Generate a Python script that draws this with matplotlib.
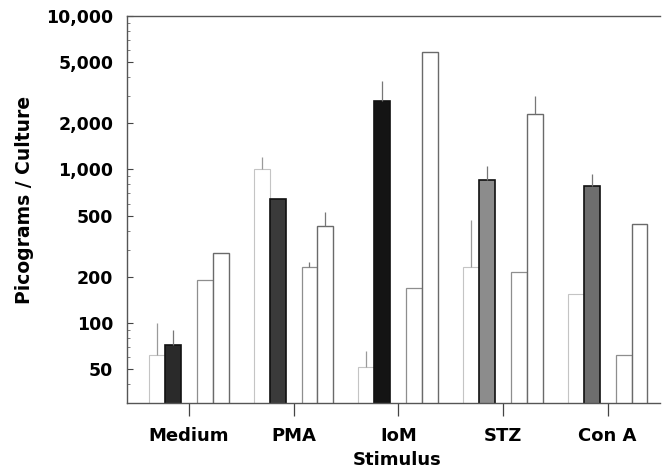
import matplotlib
matplotlib.use('Agg')
import matplotlib.pyplot as plt
import numpy as np
from matplotlib.ticker import FixedLocator, NullFormatter, LogLocator

plt.rcParams['font.family'] = 'DejaVu Sans'
plt.rcParams['font.weight'] = 'bold'

#%% Data
stimuli = ['Medium', 'PMA', 'IoM', 'STZ', 'Con A']

# four visible bars per group; values and top of the upper error bar
light1 = [62, 1000, 52, 230, 155]
light1_err = [100, 1200, 66, 470, 155]
dark = [72, 640, 2800, 860, 780]
dark_err = [90, 640, 3800, 1050, 940]
open4 = [190, 230, 170, 215, 62]
open4_err = [190, 250, 170, 215, 62]
open5 = [285, 430, 5800, 2300, 440]
open5_err = [285, 530, 5800, 3000, 440]

ytick_vals = [50, 100, 200, 500, 1000, 2000, 5000, 10000]
ytick_text = ['50', '100', '200', '500', '1,000', '2,000', '5,000', '10,000']

#%% Plot
fig = plt.figure(figsize=(6.62, 4.71), dpi=100)
ax = fig.add_axes([0.192, 0.144, 0.805, 0.822])

x = np.arange(len(stimuli))
w = 0.152
dark_cols = ['#2a2a2a', '#3a3a3a', '#141414', '#8c8c8c', '#6e6e6e']


def upper(vals, tops):
    v = np.array(vals, float)
    return [np.zeros_like(v), np.array(tops, float) - v]


ax.bar(x - 2 * w, light1, w, color='white', edgecolor='#c4c4c4', linewidth=0.8,
       yerr=upper(light1, light1_err), ecolor='#9a9a9a',
       error_kw=dict(elinewidth=0.9, capsize=0))
ax.bar(x - w, dark, w, color=dark_cols, edgecolor='#111111', linewidth=1.2,
       yerr=upper(dark, dark_err), ecolor='#777777',
       error_kw=dict(elinewidth=0.9, capsize=0))
ax.bar(x + w, open4, w, color='white', edgecolor='#8e8e8e', linewidth=0.9,
       yerr=upper(open4, open4_err), ecolor='#777777',
       error_kw=dict(elinewidth=0.9, capsize=0))
ax.bar(x + 2 * w, open5, w, color='white', edgecolor='#6a6a6a', linewidth=1.0,
       yerr=upper(open5, open5_err), ecolor='#777777',
       error_kw=dict(elinewidth=0.9, capsize=0))

ax.set_yscale('log')
ax.set_ylim(30, 10000)
ax.set_xlim(-0.59, 4.5)

ax.yaxis.set_major_locator(FixedLocator(ytick_vals))
ax.set_yticklabels(ytick_text, fontsize=12.5, fontweight='bold')
ax.yaxis.set_minor_locator(LogLocator(base=10, subs=(3, 4, 6, 7, 8, 9)))
ax.yaxis.set_minor_formatter(NullFormatter())
ax.tick_params(axis='y', which='major', direction='in', length=4, width=0.8,
               pad=10, colors='#444444', labelcolor='black')
ax.tick_params(axis='y', which='minor', direction='in', length=2.5, width=0.6,
               colors='#666666')

ax.set_xticks(x)
ax.set_xticklabels(stimuli, fontsize=13, fontweight='bold')
ax.tick_params(axis='x', direction='out', length=9, width=0.9, pad=8,
               colors='#444444', labelcolor='black')

for s in ['left', 'bottom', 'top']:
    ax.spines[s].set_color('#555555')
    ax.spines[s].set_linewidth(1.0)
ax.spines['right'].set_visible(False)

fig.text(397 / 662, 1 - 460 / 471, 'Stimulus', ha='center', va='center',
         fontsize=13, fontweight='bold')
fig.text(25 / 662, 1 - 200 / 471, 'Picograms / Culture', ha='center',
         va='center', rotation=90, fontsize=13.5, fontweight='bold')

fig.savefig('out.png', dpi=100)
